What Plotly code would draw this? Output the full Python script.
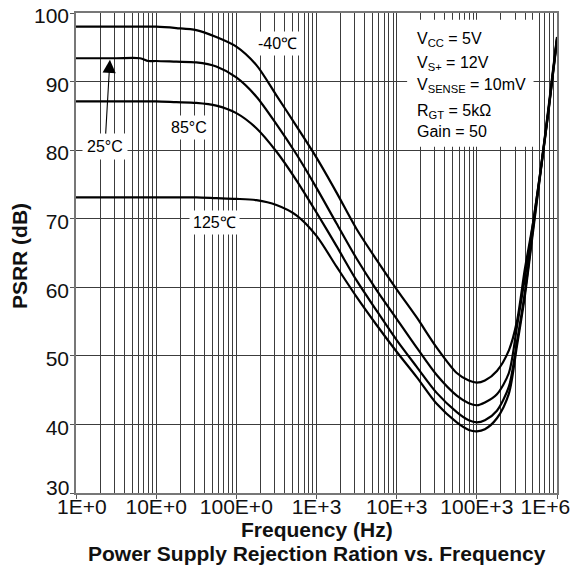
import plotly.graph_objects as go
import math

# ---- data ----
freq_hz = [1, 3.16, 6.31, 7.94, 10, 17.8, 31.6, 56.2, 100, 178, 316, 562, 1000, 1780,
           3160, 5620, 10000, 17800, 31600, 56200, 79400, 100000, 126000, 178000,
           251000, 316000, 398000, 501000, 631000, 794000, 1000000]

psrr_m40 = [98.0, 98.0, 98.0, 98.0, 98.0, 97.8, 97.5, 96.5, 95.1, 92.4, 88.0, 83.5, 78.9, 73.8,
            68.5, 64.0, 59.7, 55.6, 51.2, 47.5, 46.4, 46.1, 46.4, 47.8, 50.8, 55.0, 62.7,
            69.3, 77.5, 86.8, 96.5]
psrr_25 = [93.4, 93.4, 93.4, 93.0, 93.0, 92.9, 92.8, 92.2, 90.6, 87.8, 83.8, 79.4, 74.5, 69.3,
           64.2, 59.6, 55.4, 51.2, 47.2, 44.2, 43.1, 42.8, 43.2, 44.4, 47.5, 54.2, 61.4,
           69.2, 77.5, 86.5, 96.3]
psrr_85 = [87.1, 87.1, 87.1, 87.1, 87.1, 87.0, 86.9, 86.5, 85.4, 83.2, 79.8, 75.6, 70.9, 66.0,
           61.0, 56.6, 52.3, 48.4, 44.6, 41.8, 40.6, 40.3, 40.6, 42.0, 45.5, 52.0, 59.3,
           68.5, 77.3, 86.3, 96.2]
psrr_125 = [73.1, 73.1, 73.1, 73.1, 73.1, 73.1, 73.1, 73.0, 72.9, 72.7, 72.0, 70.5, 67.5, 63.0,
            58.6, 54.5, 50.6, 46.9, 43.0, 40.3, 39.2, 39.0, 39.3, 40.9, 44.5, 51.4, 58.8,
            68.0, 77.2, 86.2, 96.0]

x_tickvals = [1, 10, 100, 1000, 10000, 100000, 1000000]
x_ticktext = ["\u00a0\u00a01E+0", "10E+0", "100E+0", "1E+3", "10E+3", "100E+3",
              "1E+6\u00a0\u00a0\u00a0\u00a0"]
y_tickvals = [30, 40, 50, 60, 70, 80, 90, 100]
y_ticktext = ["", "40", "50", "60", "70", "80", "90", "100"]   # "30" drawn separately (raised)

FONT = "Arial, Liberation Sans, sans-serif"
GRID = "#3c3c3c"

fig = go.Figure()
for ys in [psrr_m40, psrr_25, psrr_85, psrr_125]:
    fig.add_trace(go.Scatter(x=freq_hz, y=ys, mode="lines",
                             line=dict(color="black", width=2.2, shape="spline", smoothing=0.8),
                             showlegend=False, hoverinfo="skip"))

L = math.log10

# parameter box (white, hides grid); shapes on log axes take data values
fig.add_shape(type="rect", xref="x", yref="y", x0=13500, x1=510000, y0=80.5, y1=99,
              fillcolor="white", line=dict(width=0), layer="above")

ann = []
lab = dict(font=dict(family=FONT, size=16, color="black"), bgcolor="white", borderpad=3,
           showarrow=False, xref="x", yref="y")
ann.append(dict(text="-40℃", x=L(330), y=95.6, **lab))
ann.append(dict(text="85°C", x=L(26), y=83.3, **lab))
ann.append(dict(text="125℃", x=L(53), y=69.5, **lab))
ann.append(dict(text="25°C", x=L(2.65), y=93.2, xref="x", yref="y", showarrow=True,
                ax=-5, ay=87, arrowhead=2, arrowsize=2.4, arrowwidth=1.1, arrowcolor="black",
                font=dict(family=FONT, size=16, color="black"), bgcolor="white", borderpad=4))

params = ["V<sub>CC</sub> = 5V", "V<sub>S+</sub> = 12V", "V<sub>SENSE</sub> = 10mV",
          "R<sub>GT</sub> = 5kΩ", "Gain = 50"]
param_y = [96.1, 92.6, 89.5, 85.65, 82.65]
for t, yv in zip(params, param_y):
    ann.append(dict(text=t, x=L(17000), y=yv, xanchor="left", yanchor="middle", showarrow=False,
                    xref="x", yref="y", font=dict(family=FONT, size=16, color="black")))

ann.append(dict(text=str(y_tickvals[0]), xref="paper", yref="y", x=-0.0104, y=y_tickvals[0],
                xanchor="right", yanchor="middle", yshift=6, showarrow=False,
                font=dict(family=FONT, size=21, color="#111")))

ann.append(dict(text="<b>Frequency (Hz)</b>", xref="paper", yref="paper", x=0.5, y=-0.075,
                yanchor="middle", showarrow=False, font=dict(family=FONT, size=21, color="#111")))
ann.append(dict(text="<b>Power Supply Rejection Ration vs. Frequency</b>", xref="paper",
                yref="paper", x=0.5, y=-0.125, yanchor="middle", showarrow=False,
                font=dict(family=FONT, size=21, color="#111")))
ann.append(dict(text="<b>PSRR (dB)</b>", xref="paper", yref="paper", x=-0.116, y=0.494,
                textangle=-90, xanchor="center", yanchor="middle", showarrow=False,
                font=dict(family=FONT, size=21, color="#111")))

# the page body adds an 8px offset, so the figure is 8px smaller and margins shifted
fig.update_layout(
    width=574, height=560,
    margin=dict(l=68, r=25, t=5, b=75, autoexpand=False),
    plot_bgcolor="white", paper_bgcolor="white",
    annotations=ann,
    xaxis=dict(type="log", range=[0, 6], tickvals=x_tickvals, ticktext=x_ticktext,
               showgrid=True, gridcolor=GRID, gridwidth=1, automargin=False,
               ticklabeloverflow="allow", ticklabelstandoff=-10,
               minor=dict(dtick="D1", showgrid=True, gridcolor=GRID, gridwidth=1, ticks=""),
               showline=True, linecolor="#777", linewidth=1.5, mirror=True,
               ticks="outside", ticklen=4, tickcolor="#555",
               tickfont=dict(family=FONT, size=21, color="#111"), zeroline=False),
    yaxis=dict(range=[30, 100], tickvals=y_tickvals, ticktext=y_ticktext,
               showgrid=True, gridcolor=GRID, gridwidth=1,
               automargin=False, ticklabeloverflow="allow", ticklabelstandoff=-3,
               ticklabelshift=3,
               showline=True, linecolor="#777", linewidth=1.5, mirror=True,
               ticks="outside", ticklen=4, tickcolor="#555",
               tickfont=dict(family=FONT, size=21, color="#111"), zeroline=False),
)

fig.write_html("out.html")
